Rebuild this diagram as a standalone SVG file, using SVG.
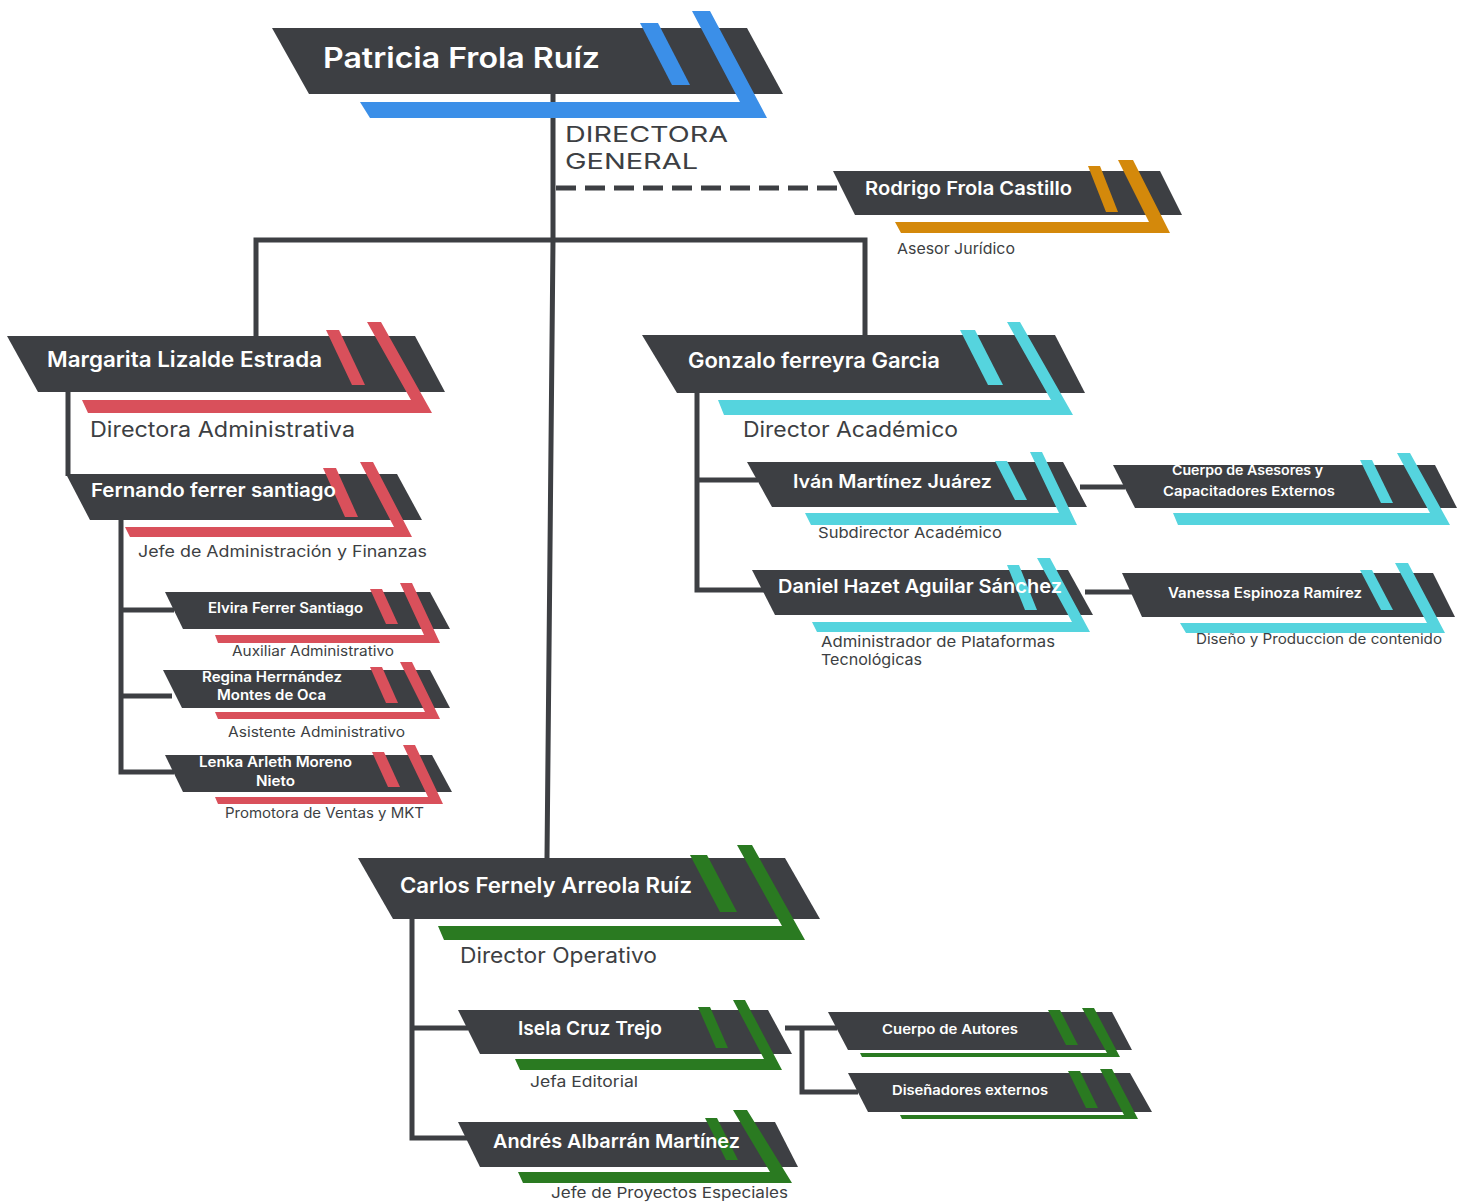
<svg xmlns="http://www.w3.org/2000/svg" width="1461" height="1203" viewBox="0 0 1461 1203">
<style>
.dk{fill:#3d3f43}
.bl{fill:#3b8fe8}
.or{fill:#d4890b}
.rd{fill:#d9505b}
.cy{fill:#55d4de}
.gr{fill:#2a7a21}
.nm{font-family:Inter,"Open Sans",sans-serif;font-weight:600;fill:#ffffff}
.rl{font-family:Inter,"Open Sans",sans-serif;font-weight:400;fill:#3d3f43}
.ln{stroke:#3d3f43;stroke-width:5;fill:none;stroke-linejoin:miter}
</style>
<rect width="1461" height="1203" fill="#ffffff"/>

<g id="connectors">
<polyline class="ln" points="553,94 553,240 547,858"/>
<polyline class="ln" points="256,336 256,240 865,240 865,335"/>
<line class="ln" x1="556" y1="188" x2="840" y2="188" stroke-dasharray="20,9"/>
<line class="ln" x1="68" y1="392" x2="68" y2="476"/>
<polyline class="ln" points="121,520 121,772 174,772"/>
<line class="ln" x1="121" y1="610" x2="174" y2="610"/>
<line class="ln" x1="121" y1="696" x2="172" y2="696"/>
<polyline class="ln" points="697,393 697,590 765,590"/>
<line class="ln" x1="697" y1="480" x2="758" y2="480"/>
<line class="ln" x1="1080" y1="487" x2="1125" y2="487"/>
<line class="ln" x1="1085" y1="592" x2="1132" y2="592"/>
<polyline class="ln" points="412,919 412,1138 468,1138"/>
<line class="ln" x1="412" y1="1028" x2="468" y2="1028"/>
<line class="ln" x1="785" y1="1028" x2="837" y2="1028"/>
<polyline class="ln" points="802,1028 802,1092 858,1092"/>
</g>

<g id="n-patricia">
<polygon class="dk" points="272,28 747,28 783,94 309,94"/>
<polygon class="bl" points="640,23 658,23 690,85 672,85"/>
<polygon class="bl" points="692,11 710,11 767,118 370,118 360,102 740,102"/>
<text class="nm" x="323" y="68" font-size="28" textLength="277" lengthAdjust="spacingAndGlyphs">Patricia Frola Ruíz</text>
<text class="rl" x="565" y="142" font-size="22" textLength="163" lengthAdjust="spacingAndGlyphs">DIRECTORA</text>
<text class="rl" x="565" y="169" font-size="22" textLength="133" lengthAdjust="spacingAndGlyphs">GENERAL</text>
</g>

<g id="n-rodrigo">
<polygon class="dk" points="833,171 1160,171 1182,215 855,215"/>
<polygon class="or" points="1088,166 1100,166 1118,212 1106,212"/>
<polygon class="or" points="1118,160 1133,160 1170,233 901,233 895,222 1149,222"/>
<text class="nm" x="865" y="195" font-size="18.5" textLength="207" lengthAdjust="spacingAndGlyphs">Rodrigo Frola Castillo</text>
<text class="rl" x="897" y="254" font-size="15" textLength="118" lengthAdjust="spacingAndGlyphs">Asesor Jurídico</text>
</g>

<g id="n-margarita">
<polygon class="dk" points="7,336 415,336 445,392 38,392"/>
<polygon class="rd" points="326,330 339,330 365,385 352,385"/>
<polygon class="rd" points="367,322 381,322 432,413 88,413 82,400 411,400"/>
<text class="nm" x="47" y="367" font-size="21" textLength="275" lengthAdjust="spacingAndGlyphs">Margarita Lizalde Estrada</text>
<text class="rl" x="90" y="437" font-size="21" textLength="265" lengthAdjust="spacingAndGlyphs">Directora Administrativa</text>
</g>

<g id="n-fernando">
<polygon class="dk" points="66,474 397,474 422,520 90,520"/>
<polygon class="rd" points="323,468 336,468 358,517 345,517"/>
<polygon class="rd" points="360,462 373,462 412,537 130,537 125,527 394,527"/>
<text class="nm" x="91" y="497" font-size="19" textLength="245" lengthAdjust="spacingAndGlyphs">Fernando ferrer santiago</text>
<text class="rl" x="138" y="557" font-size="16" textLength="289" lengthAdjust="spacingAndGlyphs">Jefe de Administración y Finanzas</text>
</g>

<g id="n-elvira">
<polygon class="dk" points="165,592 430,592 450,629 183,629"/>
<polygon class="rd" points="370,589 382,589 398,624 386,624"/>
<polygon class="rd" points="400,583 412,583 440,643 218,643 215,635 424,635"/>
<text class="nm" x="208" y="613" font-size="14" textLength="155" lengthAdjust="spacingAndGlyphs">Elvira Ferrer Santiago</text>
<text class="rl" x="232" y="656" font-size="14" textLength="162" lengthAdjust="spacingAndGlyphs">Auxiliar Administrativo</text>
</g>

<g id="n-regina">
<polygon class="dk" points="163,670 430,670 450,708 182,708"/>
<polygon class="rd" points="370,667 382,667 398,703 386,703"/>
<polygon class="rd" points="400,662 412,662 440,719 218,719 215,712 425,712"/>
<text class="nm" x="202" y="682" font-size="14" textLength="140" lengthAdjust="spacingAndGlyphs">Regina Herrnández</text>
<text class="nm" x="217" y="700" font-size="14" textLength="109" lengthAdjust="spacingAndGlyphs">Montes de Oca</text>
<text class="rl" x="228" y="737" font-size="14" textLength="177" lengthAdjust="spacingAndGlyphs">Asistente Administrativo</text>
</g>

<g id="n-lenka">
<polygon class="dk" points="165,755 432,755 452,792 183,792"/>
<polygon class="rd" points="372,752 384,752 400,787 388,787"/>
<polygon class="rd" points="403,745 415,745 443,804 218,804 215,797 428,797"/>
<text class="nm" x="199" y="767" font-size="14" textLength="153" lengthAdjust="spacingAndGlyphs">Lenka Arleth Moreno</text>
<text class="nm" x="256" y="786" font-size="14" textLength="39" lengthAdjust="spacingAndGlyphs">Nieto</text>
<text class="rl" x="225" y="818" font-size="14" textLength="199" lengthAdjust="spacingAndGlyphs">Promotora de Ventas y MKT</text>
</g>

<g id="n-gonzalo">
<polygon class="dk" points="642,335 1055,335 1085,393 677,393"/>
<polygon class="cy" points="960,330 975,330 1003,385 988,385"/>
<polygon class="cy" points="1007,322 1020,322 1073,415 724,415 718,400 1051,400"/>
<text class="nm" x="688" y="368" font-size="21" textLength="252" lengthAdjust="spacingAndGlyphs">Gonzalo ferreyra Garcia</text>
<text class="rl" x="743" y="437" font-size="21" textLength="215" lengthAdjust="spacingAndGlyphs">Director Académico</text>
</g>

<g id="n-ivan">
<polygon class="dk" points="747,462 1063,462 1087,507 772,507"/>
<polygon class="cy" points="995,461 1007,461 1027,500 1015,500"/>
<polygon class="cy" points="1030,452 1042,452 1077,525 811,525 805,513 1059,513"/>
<text class="nm" x="793" y="488" font-size="18" textLength="199" lengthAdjust="spacingAndGlyphs">Iván Martínez Juárez</text>
<text class="rl" x="818" y="538" font-size="15" textLength="184" lengthAdjust="spacingAndGlyphs">Subdirector Académico</text>
</g>

<g id="n-daniel">
<polygon class="dk" points="752,570 1068,570 1093,615 775,615"/>
<polygon class="cy" points="1007,565 1019,565 1037,610 1025,610"/>
<polygon class="cy" points="1037,558 1050,558 1090,632 817,632 812,622 1072,622"/>
<text class="nm" x="778" y="593" font-size="19" textLength="284" lengthAdjust="spacingAndGlyphs">Daniel Hazet Aguilar Sánchez</text>
<text class="rl" x="821" y="647" font-size="15" textLength="234" lengthAdjust="spacingAndGlyphs">Administrador de Plataformas</text>
<text class="rl" x="821" y="665" font-size="15" textLength="101" lengthAdjust="spacingAndGlyphs">Tecnológicas</text>
</g>

<g id="n-cuerpo-asesores">
<polygon class="dk" points="1113,465 1435,465 1457,508 1135,508"/>
<polygon class="cy" points="1360,460 1372,460 1393,503 1381,503"/>
<polygon class="cy" points="1397,453 1410,453 1450,525 1178,525 1173,513 1430,513"/>
<text class="nm" x="1172" y="475" font-size="13" textLength="151" lengthAdjust="spacingAndGlyphs">Cuerpo de Asesores y</text>
<text class="nm" x="1163" y="496" font-size="13" textLength="172" lengthAdjust="spacingAndGlyphs">Capacitadores Externos</text>
</g>

<g id="n-vanessa">
<polygon class="dk" points="1122,573 1433,573 1455,617 1142,617"/>
<polygon class="cy" points="1360,570 1372,570 1393,610 1381,610"/>
<polygon class="cy" points="1395,563 1408,563 1445,633 1186,633 1180,623 1427,623"/>
<text class="nm" x="1168" y="598" font-size="14" textLength="194" lengthAdjust="spacingAndGlyphs">Vanessa Espinoza Ramírez</text>
<text class="rl" x="1196" y="644" font-size="14" textLength="246" lengthAdjust="spacingAndGlyphs">Diseño y Produccion de contenido</text>
</g>

<g id="n-carlos">
<polygon class="dk" points="358,858 785,858 820,919 393,919"/>
<polygon class="gr" points="690,855 707,855 737,912 720,912"/>
<polygon class="gr" points="737,845 752,845 805,940 444,940 438,926 782,926"/>
<text class="nm" x="400" y="893" font-size="21" textLength="292" lengthAdjust="spacingAndGlyphs">Carlos Fernely Arreola Ruíz</text>
<text class="rl" x="460" y="963" font-size="21" textLength="197" lengthAdjust="spacingAndGlyphs">Director Operativo</text>
</g>

<g id="n-isela">
<polygon class="dk" points="458,1010 768,1010 792,1054 480,1054"/>
<polygon class="gr" points="698,1007 710,1007 728,1048 716,1048"/>
<polygon class="gr" points="733,1000 745,1000 782,1070 520,1070 515,1059 764,1059"/>
<text class="nm" x="518" y="1035" font-size="19" textLength="144" lengthAdjust="spacingAndGlyphs">Isela Cruz Trejo</text>
<text class="rl" x="530" y="1087" font-size="15" textLength="108" lengthAdjust="spacingAndGlyphs">Jefa Editorial</text>
</g>

<g id="n-andres">
<polygon class="dk" points="458,1122 775,1122 798,1167 480,1167"/>
<polygon class="gr" points="705,1118 717,1118 738,1160 726,1160"/>
<polygon class="gr" points="733,1110 747,1110 792,1183 523,1183 518,1172 770,1172"/>
<text class="nm" x="493" y="1148" font-size="19" textLength="247" lengthAdjust="spacingAndGlyphs">Andrés Albarrán Martínez</text>
<text class="rl" x="551" y="1198" font-size="15" textLength="237" lengthAdjust="spacingAndGlyphs">Jefe de Proyectos Especiales</text>
</g>

<g id="n-cuerpo-autores">
<polygon class="dk" points="828,1012 1112,1012 1132,1050 848,1050"/>
<polygon class="gr" points="1048,1010 1060,1010 1078,1045 1066,1045"/>
<polygon class="gr" points="1082,1008 1094,1008 1120,1057 862,1057 860,1053 1107,1053"/>
<text class="nm" x="882" y="1034" font-size="13" textLength="136" lengthAdjust="spacingAndGlyphs">Cuerpo de Autores</text>
</g>

<g id="n-disenadores">
<polygon class="dk" points="848,1073 1130,1073 1152,1112 868,1112"/>
<polygon class="gr" points="1068,1071 1080,1071 1098,1108 1086,1108"/>
<polygon class="gr" points="1100,1069 1112,1069 1138,1119 902,1119 900,1115 1124,1115"/>
<text class="nm" x="892" y="1095" font-size="13" textLength="156" lengthAdjust="spacingAndGlyphs">Diseñadores externos</text>
</g>
</svg>
